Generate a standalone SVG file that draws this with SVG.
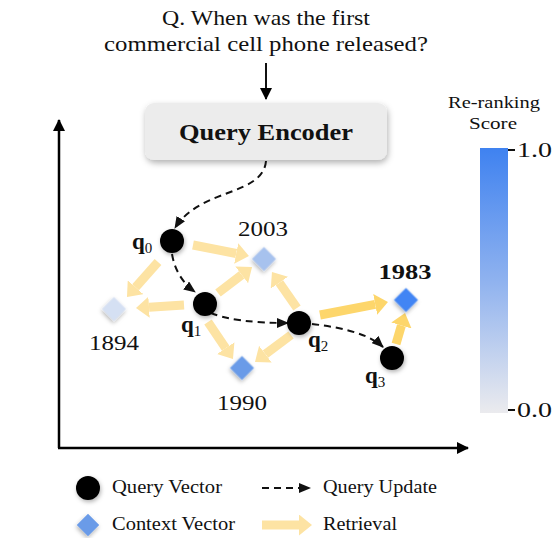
<svg xmlns="http://www.w3.org/2000/svg" width="559" height="538" viewBox="0 0 559 538">
<defs>
<style>
.t{font-family:"Liberation Serif","Times New Roman",serif;fill:#111}
.yl{stroke:#fde3a3;stroke-width:9;fill:none;marker-end:url(#hl)}
.ys{stroke:#fdd66b;stroke-width:9;fill:none;marker-end:url(#hs)}
.dash{stroke:#111;stroke-width:2;stroke-dasharray:7 5;fill:none;marker-end:url(#ha)}
.qv{fill:#000;filter:url(#sh)}
.dm{filter:url(#sh)}
</style>
<filter id="sh" x="-50%" y="-50%" width="200%" height="200%">
<feDropShadow dx="1" dy="2" stdDeviation="2" flood-color="#000" flood-opacity="0.3"/>
</filter>
<filter id="bs" x="-20%" y="-30%" width="140%" height="170%">
<feDropShadow dx="1" dy="3" stdDeviation="3" flood-color="#000" flood-opacity="0.3"/>
</filter>
<marker id="hl" markerUnits="userSpaceOnUse" markerWidth="14" markerHeight="21" refX="0" refY="10.5" orient="auto">
<path d="M0,0 L13,10.5 L0,21 z" fill="#fde3a3"/>
</marker>
<marker id="hs" markerUnits="userSpaceOnUse" markerWidth="14" markerHeight="21" refX="0" refY="10.5" orient="auto">
<path d="M0,0 L13,10.5 L0,21 z" fill="#fdd66b"/>
</marker>
<marker id="ha" markerUnits="userSpaceOnUse" markerWidth="12" markerHeight="10" refX="11" refY="5" orient="auto">
<path d="M0,0 L12,5 L0,10 z" fill="#111"/>
</marker>
<marker id="ax" markerUnits="userSpaceOnUse" markerWidth="12" markerHeight="12" refX="11" refY="6" orient="auto">
<path d="M0,0 L12,6 L0,12 z" fill="#000"/>
</marker>
<linearGradient id="cb" x1="0" y1="0" x2="0" y2="1">
<stop offset="0" stop-color="#3f82f0"/>
<stop offset="0.5" stop-color="#8fb2ef"/>
<stop offset="1" stop-color="#ebebee"/>
</linearGradient>
</defs>
<rect width="559" height="538" fill="#fff"/>

<g id="question">
<text class="t" x="266" y="25" font-size="21" text-anchor="middle" textLength="208" lengthAdjust="spacingAndGlyphs">Q. When was the first</text>
<text class="t" x="266" y="51" font-size="21" text-anchor="middle" textLength="324" lengthAdjust="spacingAndGlyphs">commercial cell phone released?</text>
</g>

<g id="axes" stroke="#000" stroke-width="2.5" fill="none">
<line x1="59" y1="448" x2="59" y2="120" marker-end="url(#ax)"/>
<line x1="58" y1="448" x2="468" y2="448" marker-end="url(#ax)"/>
</g>

<g id="encoder">
<rect x="145" y="103" width="242" height="57" rx="9" fill="#ececec" filter="url(#bs)"/>
<text class="t" x="266" y="140" font-size="24" font-weight="bold" text-anchor="middle" textLength="174" lengthAdjust="spacingAndGlyphs">Query Encoder</text>
</g>

<g id="connectors">
<line x1="266" y1="63" x2="266" y2="99" stroke="#111" stroke-width="2" marker-end="url(#ax)"/>
<line class="yl" x1="193" y1="245" x2="236.2" y2="253.5"/>
<line class="yl" x1="158" y1="262" x2="135.6" y2="287.3"/>
<line class="yl" x1="184" y1="305" x2="149" y2="307.2"/>
<line class="yl" x1="218" y1="293" x2="241.7" y2="274.9"/>
<line class="yl" x1="208" y1="322" x2="225.7" y2="348.2"/>
<line class="yl" x1="297" y1="308" x2="279.4" y2="282.7"/>
<line class="yl" x1="291" y1="335" x2="265.4" y2="354.2"/>
<line class="ys" x1="320" y1="315" x2="375.2" y2="304.4"/>
<line class="ys" x1="396" y1="344" x2="401.4" y2="325.5"/>
<path class="dash" d="M266,161 C263,196 200,188 175,228"/>
<path class="dash" d="M172,254 Q176,278 195,292"/>
<path class="dash" d="M211,313 Q235,323 288,323"/>
<path class="dash" d="M312,324 Q365,330 383,347"/>
</g>

<g id="c2003">
<rect class="dm" x="255.5" y="250.5" width="17" height="17" fill="#a7c2ee" transform="rotate(45 264 259)"/>
<text class="t" x="263" y="236" font-size="22" text-anchor="middle" textLength="50" lengthAdjust="spacingAndGlyphs">2003</text>
</g>
<g id="c1894">
<rect class="dm" x="105.5" y="300.5" width="17" height="17" fill="#d5e0f3" transform="rotate(45 114 309)"/>
<text class="t" x="114" y="350" font-size="22" text-anchor="middle" textLength="50" lengthAdjust="spacingAndGlyphs">1894</text>
</g>
<g id="c1990">
<rect class="dm" x="233.5" y="359.5" width="17" height="17" fill="#6b9be8" transform="rotate(45 242 368)"/>
<text class="t" x="242" y="410" font-size="22" text-anchor="middle" textLength="50" lengthAdjust="spacingAndGlyphs">1990</text>
</g>
<g id="c1983">
<rect class="dm" x="397.5" y="291.5" width="17" height="17" fill="#4285f4" transform="rotate(45 406 300)"/>
<text class="t" x="405" y="279" font-size="22" font-weight="bold" text-anchor="middle" textLength="53" lengthAdjust="spacingAndGlyphs">1983</text>
</g>

<g id="q0">
<circle class="qv" cx="172" cy="241" r="12"/>
<text class="t" x="132" y="249" font-size="23" font-weight="bold">q<tspan font-size="15" font-weight="normal" dy="4">0</tspan></text>
</g>
<g id="q1">
<circle class="qv" cx="205" cy="304" r="12"/>
<text class="t" x="181" y="332" font-size="23" font-weight="bold">q<tspan font-size="15" font-weight="normal" dy="4">1</tspan></text>
</g>
<g id="q2">
<circle class="qv" cx="299" cy="323" r="12"/>
<text class="t" x="308" y="347" font-size="23" font-weight="bold">q<tspan font-size="15" font-weight="normal" dy="4">2</tspan></text>
</g>
<g id="q3">
<circle class="qv" cx="392" cy="358" r="12"/>
<text class="t" x="365" y="383" font-size="23" font-weight="bold">q<tspan font-size="15" font-weight="normal" dy="4">3</tspan></text>
</g>

<g id="colorbar">
<text class="t" x="494" y="108" font-size="17" text-anchor="middle" textLength="92" lengthAdjust="spacingAndGlyphs">Re-ranking</text>
<text class="t" x="493" y="129" font-size="17" text-anchor="middle" textLength="48" lengthAdjust="spacingAndGlyphs">Score</text>
<rect x="480" y="148" width="28" height="265" fill="url(#cb)"/>
<line x1="508" y1="150" x2="515" y2="150" stroke="#111" stroke-width="2"/>
<line x1="508" y1="410" x2="515" y2="410" stroke="#111" stroke-width="2"/>
<text class="t" x="517" y="157" font-size="22" textLength="35" lengthAdjust="spacingAndGlyphs">1.0</text>
<text class="t" x="517" y="417" font-size="22" textLength="35" lengthAdjust="spacingAndGlyphs">0.0</text>
</g>

<g id="legend">
<circle class="qv" cx="88" cy="488" r="12"/>
<text class="t" x="112" y="493" font-size="18" textLength="110" lengthAdjust="spacingAndGlyphs">Query Vector</text>
<rect class="dm" x="80" y="517" width="16" height="16" fill="#6b9be8" transform="rotate(45 88 525)"/>
<text class="t" x="112" y="530" font-size="18" textLength="123" lengthAdjust="spacingAndGlyphs">Context Vector</text>
<path class="dash" d="M262,488 L310,488"/>
<text class="t" x="323" y="493" font-size="18" textLength="114" lengthAdjust="spacingAndGlyphs">Query Update</text>
<line x1="262" y1="525" x2="299" y2="525" stroke="#fde3a3" stroke-width="9" marker-end="url(#hl)"/>
<text class="t" x="323" y="530" font-size="18" textLength="74" lengthAdjust="spacingAndGlyphs">Retrieval</text>
</g>
</svg>
